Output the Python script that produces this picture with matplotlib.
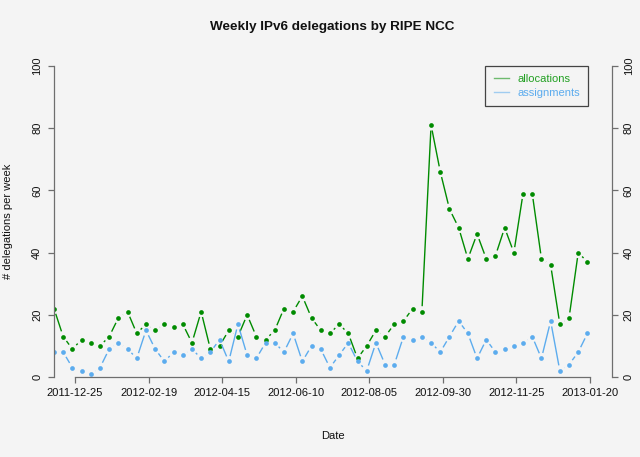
import numpy as np
import pandas as pd
import matplotlib
matplotlib.use("Agg")
import matplotlib.pyplot as plt
import matplotlib.dates as mdates
from matplotlib.collections import LineCollection
from matplotlib.lines import Line2D

plt.rcParams['font.family'] = ['Liberation Sans', 'DejaVu Sans']

# ---- data ----
start_date = "2011-12-09"
n_weeks = 59
allocations = [22, 13, 9, 12, 11, 10, 13, 19, 21, 14, 17, 15, 17, 16,
               17, 11, 21, 9, 10, 15, 13, 20, 13, 12, 15, 22, 21, 26, 19, 15,
               14, 17, 14, 6, 10, 15, 13, 17, 18, 22, 21,
               81, 66, 54, 48, 38, 46, 38, 39, 48, 40, 59, 59, 38, 36, 17, 19, 40, 37]
assignments = [8, 8, 3, 2, 1, 3, 9, 11, 9, 6, 15, 9, 5, 8,
               7, 9, 6, 8, 12, 5, 17, 7, 6, 11, 11, 8, 14, 5, 10,
               9, 3, 7, 11, 5, 2, 11, 4, 4, 13, 12, 13, 11, 8, 13, 18,
               14, 6, 12, 8, 9, 10, 11, 13, 6, 18, 2, 4, 8, 14]
tick_dates = ["2011-12-25", "2012-02-19", "2012-04-15", "2012-06-10",
              "2012-08-05", "2012-09-30", "2012-11-25", "2013-01-20"]
y_ticks = [0, 20, 40, 60, 80, 100]
series_names = ["allocations", "assignments"]

dates = pd.date_range(start_date, periods=n_weeks, freq="7D")
xd = mdates.date2num(dates.to_pydatetime())

BG = "#F4F4F4"
GREEN = "#008B00"
BLUE = "#5CACEE"
AXC = "#6E6E6E"

W, H = 640, 457
fig = plt.figure(figsize=(W / 100, H / 100), dpi=100, facecolor=BG)
ax = fig.add_axes([54 / W, (H - 377) / H, (612 - 54) / W, (377 - 66) / H])
ax.set_facecolor(BG)

xmin = xd[0]
xmax = mdates.date2num(pd.Timestamp("2013-01-20").to_pydatetime()) + 16.7
ax.set_xlim(xmin, xmax)
ax.set_ylim(0, 100)

gap = 5.5  # pixels


def draw_b(xs, ys, color):
    pts = ax.transData.transform(np.column_stack([xs, ys]))
    segs = []
    for p0, p1 in zip(pts[:-1], pts[1:]):
        d = p1 - p0
        L = np.hypot(*d)
        if L > 2 * gap:
            u = d / L
            s = p0 + u * gap
            e = p1 - u * gap
            segs.append(ax.transData.inverted().transform(np.array([s, e])))
    lc = LineCollection(segs, colors=color, linewidths=1.0, transform=ax.transData)
    ax.add_collection(lc)
    ax.plot(xs, ys, linestyle="none", marker="o", markersize=3.4,
            markeredgewidth=0, color=color)


draw_b(xd, allocations, GREEN)
draw_b(xd, assignments, BLUE)

# axes styling (R-like)
ax.spines["top"].set_visible(False)
ax.spines["left"].set_bounds(0, 100)
ax.spines["right"].set_bounds(0, 100)
tx = mdates.date2num(pd.to_datetime(tick_dates).to_pydatetime())
ax.spines["bottom"].set_bounds(tx[0], tx[-1])
for s in ["left", "right", "bottom"]:
    ax.spines[s].set_color(AXC)
    ax.spines[s].set_linewidth(0.9)

ax.set_xticks(tx)
ax.set_xticklabels(tick_dates)
ax.set_yticks(y_ticks)
ax.set_yticklabels([str(v) for v in y_ticks], rotation=90, va="center")
ax.tick_params(axis="both", direction="out", length=4.5, width=0.9, color=AXC,
               labelsize=8, labelcolor="#111111")
ax.tick_params(axis="x", pad=3.5)
ax.tick_params(axis="y", pad=4, left=True, right=True, labelleft=True, labelright=True)
for t in ax.yaxis.get_major_ticks():
    t.label1.set_rotation(90)
    t.label1.set_va("center")
    t.label2.set_rotation(90)
    t.label2.set_va("center")

fig.text(332 / W, 1 - 27 / H, "Weekly IPv6 delegations by RIPE NCC",
         ha="center", va="center", fontsize=9.7, fontweight="bold", color="#111111")
fig.text(333 / W, 1 - 436 / H, "Date", ha="center", va="center", fontsize=8, color="#111111")
fig.text(8 / W, 1 - 221 / H, "# delegations per week", ha="center", va="center",
         rotation=90, fontsize=8, color="#111111")

handles = [Line2D([], [], color=GREEN, alpha=0.55, lw=1.0),
           Line2D([], [], color=BLUE, alpha=0.55, lw=1.0)]
leg = ax.legend(handles, series_names, loc="upper right",
                bbox_to_anchor=((588 - 54) / (612 - 54), 1.0),
                borderaxespad=0, fontsize=8,
                frameon=True, fancybox=False, facecolor=BG, framealpha=1,
                edgecolor="#444444", handlelength=1.4, handletextpad=0.7,
                borderpad=0.75, labelspacing=0.3)
leg.get_frame().set_linewidth(0.9)
for t, c in zip(leg.get_texts(), ["#22A022", BLUE]):
    t.set_color(c)

fig.savefig("out.png", dpi=100, facecolor=BG)
